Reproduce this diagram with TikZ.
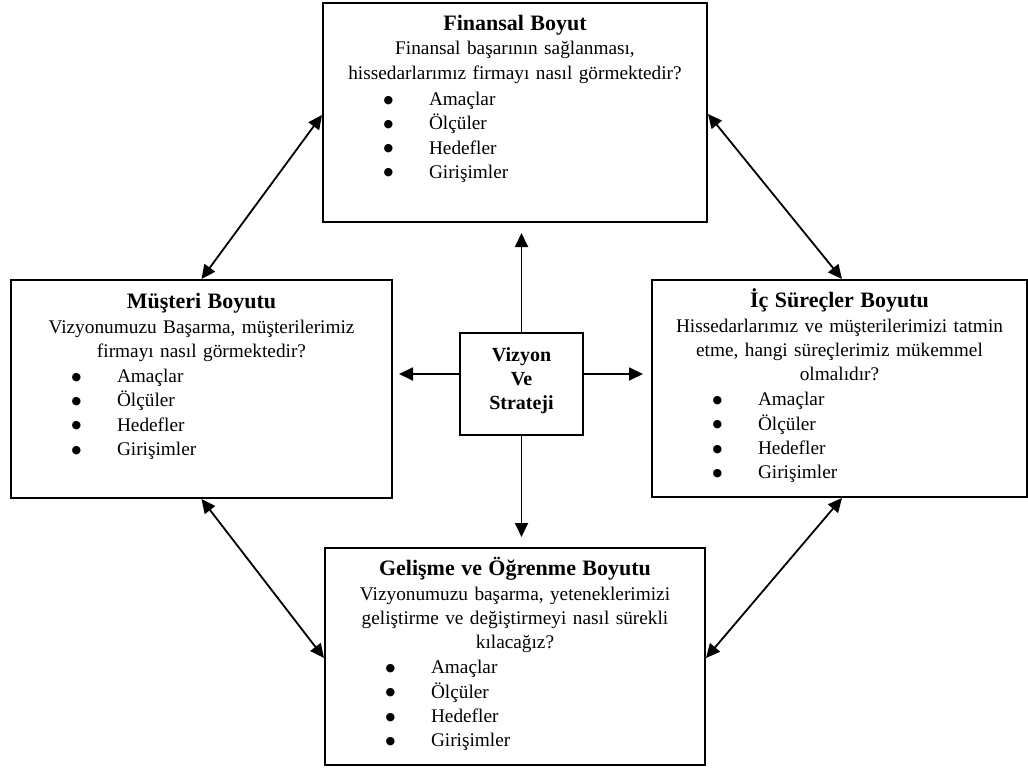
\documentclass[tikz,border=0pt]{standalone}
\usepackage{fontspec}
\setmainfont{Liberation Serif}
\newfontfamily\symfont{DejaVu Sans}
\usetikzlibrary{arrows.meta}
\newcommand{\bigbul}{\raisebox{2.5pt}{\symfont\fontsize{11}{11}\selectfont ●}}
\newcommand{\bitem}[1]{\makebox[\hsize][l]{\hspace*{60.5pt}\makebox[45.5pt][l]{\bigbul}#1}}
\newcommand{\boxtitle}[1]{\rule{0pt}{22pt}{\fontsize{22}{24}\selectfont\bfseries #1}}
\begin{document}
\begin{tikzpicture}[x=1pt,y=-1pt,
  panel/.style={draw, line width=2pt, inner sep=0pt, fill=white},
  ptext/.style={anchor=north, inner sep=0pt, align=center, font=\fontsize{19.3}{24.3}\selectfont},
  dblarrow/.style={{Triangle[length=14pt,width=13pt]}-{Triangle[length=14pt,width=13pt]}, line width=1.8pt},
  ray/.style={-{Triangle[length=14pt,width=13pt]}, line width=1.8pt}]
\useasboundingbox (0,0) rectangle (1028,770);

% boxes
\node[panel, minimum width=384pt, minimum height=219pt] (fin) at (515,112.5) {};
\node[panel, minimum width=381pt, minimum height=218pt] (mus) at (201.5,389) {};
\node[panel, minimum width=375pt, minimum height=217pt] (ic) at (839.5,388.5) {};
\node[panel, minimum width=380pt, minimum height=217pt] (gel) at (515,656.5) {};
\node[panel, minimum width=123pt, minimum height=102pt, align=center,
      font=\fontsize{20}{24}\selectfont\bfseries] (vis) at (521.5,384)
      {Vizyon\\Ve\\Strateji\rule[-10pt]{0pt}{10pt}};

% texts
\node[ptext, text width=384pt] (finT) at ([yshift=-6.5pt]fin.north)
 {\boxtitle{Finansal Boyut}\\
  Finansal başarının sağlanması,\\
  hissedarlarımız firmayı nasıl görmektedir?\\[2pt]
  \bitem{Amaçlar}\\ \bitem{Ölçüler}\\ \bitem{Hedefler}\\ \bitem{Girişimler}};
\node[ptext, text width=381pt] (musT) at ([yshift=-7.5pt]mus.north)
 {\boxtitle{Müşteri Boyutu}\\
  Vizyonumuzu Başarma, müşterilerimiz\\
  firmayı nasıl görmektedir?\\[1pt]
  \bitem{Amaçlar}\\ \bitem{Ölçüler}\\ \bitem{Hedefler}\\ \bitem{Girişimler}};
\node[ptext, text width=375pt] (icT) at ([yshift=-6.5pt]ic.north)
 {\boxtitle{İç Süreçler Boyutu}\\
  Hissedarlarımız ve müşterilerimizi tatmin\\
  etme, hangi süreçlerimiz mükemmel\\
  olmalıdır?\\[1pt]
  \bitem{Amaçlar}\\ \bitem{Ölçüler}\\ \bitem{Hedefler}\\ \bitem{Girişimler}};
\node[ptext, text width=380pt] (gelT) at ([yshift=-6.5pt]gel.north)
 {\boxtitle{Gelişme ve Öğrenme Boyutu}\\
  Vizyonumuzu başarma, yeteneklerimizi\\
  geliştirme ve değiştirmeyi nasıl sürekli\\
  kılacağız?\\[1pt]
  \bitem{Amaçlar}\\ \bitem{Ölçüler}\\ \bitem{Hedefler}\\ \bitem{Girişimler}};

% arrow ends from the centre box
\coordinate (upT) at (521.5,233);
\coordinate (leftT) at (399,374);
\coordinate (rightT) at (643,374);
\coordinate (downT) at (521.5,537);

\draw[ray] (vis.north) -- (upT);
\draw[ray] ([yshift=10pt]vis.west) -- (leftT);
\draw[ray] ([yshift=10pt]vis.east) -- (rightT);
\draw[ray] (vis.south) -- (downT);

% diagonal links
\draw[dblarrow] (mus.north) -- ([yshift=-2.5pt]fin.west);
\draw[dblarrow] ([yshift=-1.5pt]fin.east) -- ([xshift=2.5pt]ic.north);
\draw[dblarrow] (mus.south) -- ([yshift=-1.5pt]gel.west);
\draw[dblarrow] ([xshift=2.5pt]ic.south) -- ([yshift=-1.5pt]gel.east);
\end{tikzpicture}
\end{document}
